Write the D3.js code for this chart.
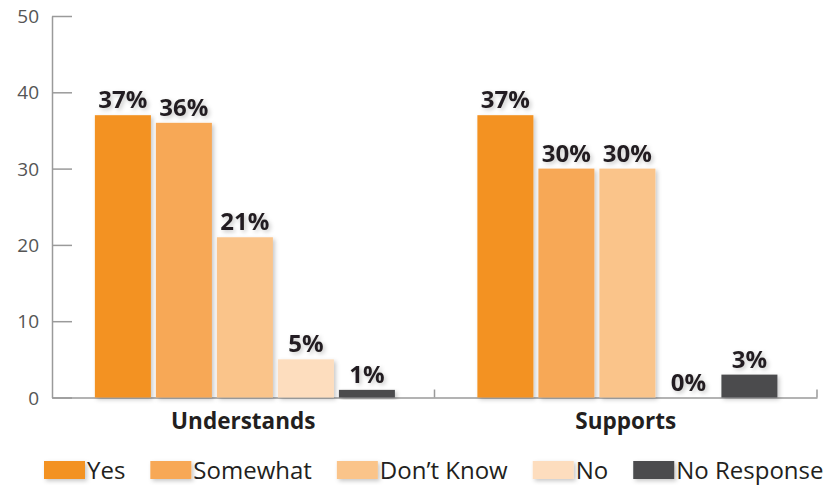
<!DOCTYPE html>
<html>
<head>
<meta charset="utf-8">
<script src="https://cdn.jsdelivr.net/npm/d3@7"></script>
<style>
  html, body { margin: 0; padding: 0; background: #fff; }
  svg { display: block; font-family: "Open Sans", "DejaVu Sans", sans-serif; }
</style>
</head>
<body>
<svg id="chart" width="832" height="485"></svg>
<script>
const categories = ["Understands", "Supports"];
const seriesNames = ["Yes", "Somewhat", "Don\u2019t Know", "No", "No Response"];
const seriesColors = ["#F39220", "#F7A856", "#FAC48A", "#FDDDBE", "#4B4C4E"];
const understandsValues = [37, 36, 21, 5, 1];
const supportsValues = [37, 30, 30, 0, 3];
const yTicks = [0, 10, 20, 30, 40, 50];

const valuesByCategory = { "Understands": understandsValues, "Supports": supportsValues };

const svg = d3.select("#chart");
const defs = svg.append("defs");
const f = defs.append("filter").attr("id", "shadow").attr("x", "-20%").attr("y", "-20%").attr("width", "150%").attr("height", "150%");
f.append("feDropShadow").attr("dx", 2).attr("dy", 2).attr("stdDeviation", 2)
  .attr("flood-color", "#000").attr("flood-opacity", 0.22);

const mLeft = 52, mRight = 817, mTop = 16, mBottom = 397.5;

const y = d3.scaleLinear().domain([0, 50]).range([mBottom, mTop]);
const x0 = d3.scaleBand().domain(categories).range([mLeft, mRight]).padding(0);
const x1 = d3.scaleBand().domain(seriesNames).range([0, x0.bandwidth()])
  .paddingInner(0.082).paddingOuter(0.676).align(0.52);
const color = d3.scaleOrdinal().domain(seriesNames).range(seriesColors);

// Y axis
const yAxis = d3.axisLeft(y).tickValues(yTicks).tickSize(0).tickPadding(13);
const yg = svg.append("g").attr("transform", `translate(${mLeft},0)`).call(yAxis);
yg.select(".domain").attr("stroke", "#9a9a9a").attr("stroke-width", 1.5);
yg.selectAll(".tick text").attr("fill", "#555").style("font-size", "19px")
  .style("font-family", "'Open Sans', sans-serif").attr("dy", "0.35em");
yg.selectAll(".tick").append("line").attr("x1", 0).attr("x2", 20)
  .attr("stroke", "#9a9a9a").attr("stroke-width", 1.5);

// Baseline (x axis)
const xAxis = d3.axisBottom(x0).tickSize(0).tickFormat("");
const xg = svg.append("g").attr("transform", `translate(0,${mBottom})`).call(xAxis);
xg.select(".domain").attr("stroke", "#9a9a9a").attr("stroke-width", 1.5);
xg.selectAll(".tick").remove();
const boundaries = categories.map(c => x0(c) + x0.bandwidth());
xg.selectAll("line.sep").data(boundaries).enter().append("line")
  .attr("class", "sep")
  .attr("x1", d => d).attr("x2", d => d).attr("y1", 0).attr("y2", -8)
  .attr("stroke", "#9a9a9a").attr("stroke-width", 1.5);

// Bars
const groups = svg.append("g").selectAll("g.group").data(categories).enter().append("g")
  .attr("class", "group").attr("transform", d => `translate(${x0(d)},0)`);

const barData = c => seriesNames.map((s, i) => ({ cat: c, series: s, value: valuesByCategory[c][i] }));

groups.selectAll("rect").data(d => barData(d).filter(b => b.value > 0)).enter().append("rect")
  .attr("x", d => x1(d.series))
  .attr("width", x1.bandwidth())
  .attr("y", d => y(d.value))
  .attr("height", d => y(0) - y(d.value))
  .attr("fill", d => color(d.series))
  .attr("filter", "url(#shadow)");

groups.selectAll("text.val").data(d => barData(d)).enter().append("text")
  .attr("class", "val")
  .attr("x", d => x1(d.series) + x1.bandwidth() / 2)
  .attr("y", d => y(d.value) - 7)
  .attr("text-anchor", "middle")
  .attr("fill", "#231f20")
  .style("font-size", "24px").style("font-weight", "bold")
  .attr("filter", "url(#shadow)")
  .text(d => d.value + "%");

// Category labels
svg.append("g").selectAll("text").data(categories).enter().append("text")
  .attr("x", d => x0(d) + x0.bandwidth() / 2)
  .attr("y", 429)
  .attr("text-anchor", "middle")
  .attr("fill", "#231f20")
  .style("font-size", "22.5px").style("font-weight", "bold")
  .text(d => d);

// Legend
const legend = svg.append("g").attr("class", "legend");
let lx = 44;
seriesNames.forEach((s, i) => {
  const g = legend.append("g").attr("transform", `translate(${lx},0)`);
  g.append("rect").attr("x", 0).attr("y", 461).attr("width", 41).attr("height", 18)
    .attr("fill", color(s)).attr("filter", "url(#shadow)");
  const t = g.append("text").attr("x", 43).attr("y", 479)
    .attr("fill", "#231f20").style("font-size", "24px").text(s);
  const w = t.node().getComputedTextLength();
  lx += 43 + w + 25;
});
</script>
</body>
</html>
